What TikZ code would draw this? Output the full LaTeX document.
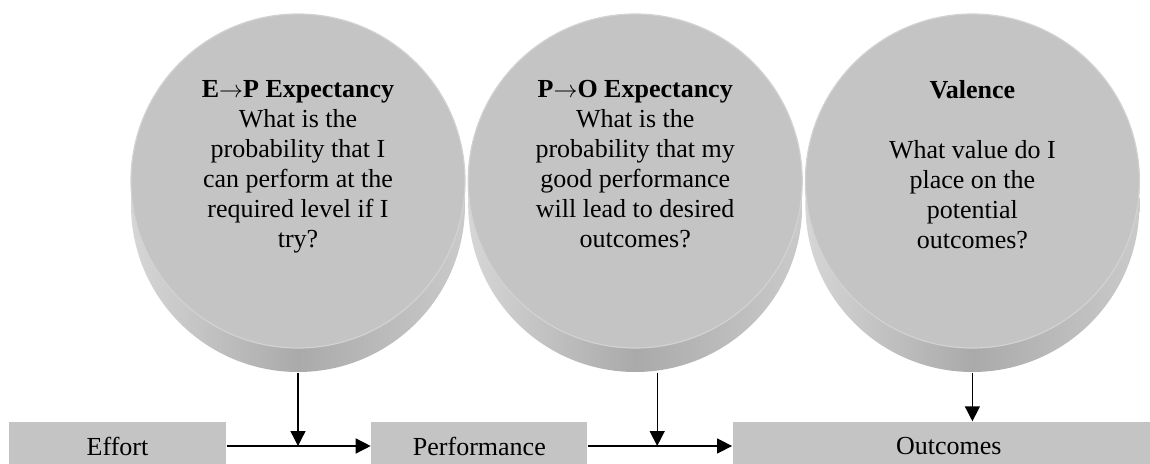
\documentclass[tikz,border=0pt]{standalone}
\usepackage{fontspec}
\setmainfont{Liberation Serif}
\usetikzlibrary{arrows.meta, positioning}

\definecolor{facegray}{RGB}{196,196,196}
\definecolor{rimgray}{RGB}{210,210,210}
\definecolor{sidelight}{RGB}{214,214,214}
\definecolor{sidedark}{RGB}{170,170,170}
\definecolor{sideright}{RGB}{202,202,202}

\begin{document}
\begin{tikzpicture}[
    x=0.5pt, y=-0.5pt,
    line width=0.7pt,
    font=\fontsize{13}{15}\selectfont,
    node distance=72pt,
    >={Triangle[length=7.5pt, width=7.5pt]},
    disc/.style={circle, minimum size=167pt, inner sep=0pt,
        fill=facegray, draw=rimgray, line width=0.6pt,
        preaction={left color=sidelight, right color=sideright, middle color=sidedark,
            transform canvas={yshift=-12pt}}},
    box/.style={fill=facegray, minimum height=24pt, inner sep=0pt},
    question/.style={align=center, inner sep=0pt, anchor=north}
]

\useasboundingbox (0,0) rectangle (1150,464);
\clip (0,0) rectangle (1150,464);

\node[disc] (c1) at (298,181) {};
\node[disc, right=1pt of c1] (c2) {};
\node[disc, right=1pt of c2] (c3) {};

\node[question] (q1) at ([yshift=-33pt]c1.north) {\textbf{E$\rightarrow$P Expectancy}\\What is the\\probability that I\\can perform at the\\required level if I\\try?};
\node[question] (q2) at ([yshift=-33pt]c2.north) {\textbf{P$\rightarrow$O Expectancy}\\What is the\\probability that my\\good performance\\will lead to desired\\outcomes?};
\node[question] (q3) at ([yshift=-33pt]c3.north) {\textbf{Valence}\\[15pt]What value do I\\place on the\\potential\\outcomes?};

\node[box, minimum width=108.5pt] (effort) at (117.5,446) {Effort};
\node[box, minimum width=108pt, right=of effort] (perf) {Performance};
\node[box, minimum width=216pt, right=of perf] (outcomes) {Outcomes};

\coordinate (a1) at ([yshift=-12pt]c1.south);
\coordinate (a2) at ([xshift=11pt, yshift=-12pt]c2.south);
\coordinate (a3) at ([yshift=-12pt]c3.south);
\coordinate (j1) at (a1 |- effort.east);
\coordinate (j2) at (a2 |- perf.east);

\draw[->] (effort) -- (perf);
\draw[->] (perf) -- (outcomes);
\draw[->] (a1) -- (j1);
\draw[->] (a2) -- (j2);
\draw[->] (a3) -- (a3 |- outcomes.north);

\end{tikzpicture}
\end{document}
